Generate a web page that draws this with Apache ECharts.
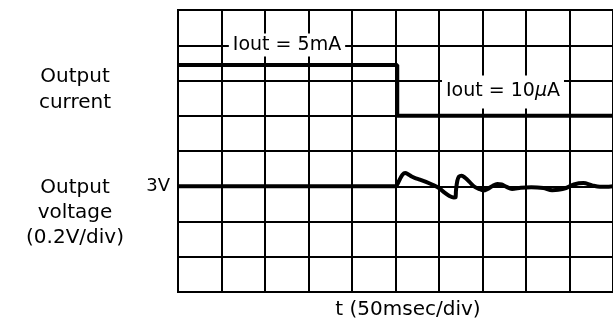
<!DOCTYPE html>
<html>
<head>
<meta charset="utf-8">
<script src="https://cdn.jsdelivr.net/npm/echarts@6/dist/echarts.min.js"></script>
<style>
  html, body { margin: 0; padding: 0; background: #fff; }
  #chart { width: 613px; height: 327px; }
</style>
</head>
<body>
<div id="chart"></div>
<script>
// Time axis: 50 ms per division, 10 divisions
const timeTicks = [0, 50, 100, 150, 200, 250, 300, 350, 400, 450, 500];

// Output current trace, in screen divisions (0 = bottom, 8 = top)
const currentTrace = [
  [0, 6.44], [252, 6.44], [252, 5.0], [500, 5.0]
];

// Output voltage trace, in volts (0.2 V/div, 3 V on the third division)
const voltageTrace = [
  [0, 3.0], [250, 3.0], [252, 3.01], [255, 3.04], [258, 3.065], [261, 3.075],
  [264, 3.07], [268, 3.057], [272, 3.048], [278, 3.038], [285, 3.025],
  [292, 3.01], [300, 2.99], [306, 2.965], [312, 2.945], [317, 2.936],
  [319, 2.937], [319.5, 2.975], [321, 3.03], [323, 3.055], [326, 3.06],
  [330, 3.048], [335, 3.025], [340, 3.0], [346, 2.985], [351, 2.976],
  [356, 2.985], [361, 3.0], [367, 3.013], [372, 3.01], [377, 2.998],
  [384, 2.985], [394, 2.992], [406, 2.995], [420, 2.99], [430, 2.978],
  [437, 2.98], [446, 2.99], [455, 3.01], [466, 3.018], [476, 3.005],
  [485, 2.997], [492, 2.997], [500, 3.0]
];

const currentLabels = ['Iout = 5mA', 'Iout = 10'];
const leftTitles = [['Output', 'current'], ['Output', 'voltage', '(0.2V/div)']];
const timeTitle = 't (50msec/div)';

const FONT = '"DejaVu Sans", sans-serif';
const FS = 20;
const chart = echarts.init(document.getElementById('chart'), null, { renderer: 'canvas' });

const gridLine = { show: true, lineStyle: { color: '#000', width: 2 } };

function txt(x, y, text, extra) {
  return {
    type: 'text', x: x, y: y, z: 10,
    style: Object.assign({
      text: text, fill: '#000', fontFamily: FONT, fontSize: FS,
      align: 'center', verticalAlign: 'middle'
    }, extra || {})
  };
}

chart.setOption({
  animation: false,
  backgroundColor: '#fff',
  grid: {
    left: 178, top: 10, right: -7, bottom: 35,
    show: true, borderColor: '#000', borderWidth: 2, backgroundColor: '#fff'
  },
  xAxis: {
    type: 'value',
    min: timeTicks[0], max: timeTicks[timeTicks.length - 1], interval: 50,
    axisLine: { show: false }, axisTick: { show: false }, axisLabel: { show: false },
    splitLine: gridLine
  },
  yAxis: [
    {
      type: 'value', min: 0, max: 8, interval: 1,
      axisLine: { show: false }, axisTick: { show: false }, axisLabel: { show: false },
      splitLine: gridLine
    },
    {
      type: 'value', position: 'left', min: 2.4, max: 4.0, interval: 0.2,
      axisLine: { show: false }, axisTick: { show: false }, splitLine: { show: false },
      axisLabel: {
        margin: 8, color: '#000', fontFamily: FONT, fontSize: 18,
        formatter: v => (Math.abs(v - 3) < 1e-6 ? '3V' : '')
      }
    }
  ],
  series: [
    {
      name: 'Output current', type: 'line', yAxisIndex: 0, data: currentTrace,
      showSymbol: false, lineStyle: { color: '#000', width: 4 }, z: 3
    },
    {
      name: 'Output voltage', type: 'line', yAxisIndex: 1, data: voltageTrace,
      showSymbol: false, smooth: 0.3, lineStyle: { color: '#000', width: 4 }, z: 3
    }
  ],
  graphic: [
    txt(287, 45, currentLabels[0], { fontSize: 19, backgroundColor: '#fff', padding: [2, 4, 2, 4] }),
    txt(503, 92, currentLabels[1] + '{mu|μ}A', {
      fontSize: 19, backgroundColor: '#fff', padding: [6, 4, 8, 4],
      rich: { mu: { fontFamily: FONT, fontSize: 19, fontStyle: 'italic', fill: '#000' } }
    }),
    txt(75, 90, leftTitles[0].join('\n'), { lineHeight: 26 }),
    txt(75, 213, leftTitles[1].join('\n'), { lineHeight: 25 }),
    txt(408, 310, timeTitle)
  ]
});
</script>
</body>
</html>
